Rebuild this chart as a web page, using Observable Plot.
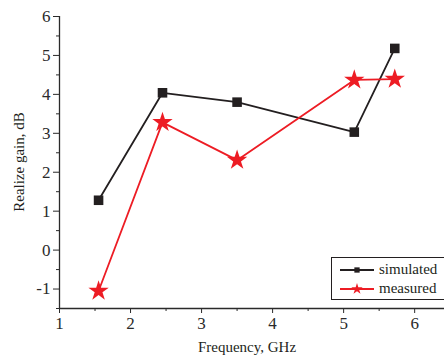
<!DOCTYPE html>
<html><head><meta charset="utf-8">
<script src="https://cdn.jsdelivr.net/npm/d3@7"></script>
<script src="https://cdn.jsdelivr.net/npm/@observablehq/plot@0.6"></script>
<style>
body{margin:0;background:#fff;}
#wrap{position:relative;width:444px;height:358px;overflow:hidden;}
#legend{position:absolute;left:331px;top:257px;width:130px;height:43px;border:1px solid #231f20;background:#fff;font-family:"Liberation Serif",serif;font-size:15px;color:#231f20;box-sizing:border-box;}
#legend .row{position:absolute;left:8px;display:flex;align-items:center;}
#legend svg{margin-right:5px;}
</style></head>
<body><div id="wrap"><div id="chart"></div><div id="legend"></div></div>
<script>
const freq = [1.55, 2.45, 3.5, 5.15, 5.72];
const simulated = [1.28, 4.04, 3.8, 3.03, 5.18];
const measured = [-1.05, 3.28, 2.31, 4.37, 4.39];
const xTicks = [1, 2, 3, 4, 5, 6];
const yTicks = [-1, 0, 1, 2, 3, 4, 5, 6];
const seriesNames = ["simulated", "measured"];
const seriesColors = ["#231f20", "#ed1c24"];

const sim = freq.map((f, i) => ({f, v: simulated[i]}));
const mea = freq.map((f, i) => ({f, v: measured[i]}));
const xMinor = d3.range(1.5, 6.5, 1);
const yMinor = d3.range(-1.5, 6, 1);

const chart = Plot.plot({
  width: 444, height: 358,
  marginLeft: 59, marginRight: 0, marginTop: 16, marginBottom: 50,
  style: {fontFamily: "Liberation Serif, serif", fontSize: "17px", color: "#2a2a2a", background: "#fff"},
  x: {domain: [1, 6.42]},
  y: {domain: [-1.5, 6]},
  marks: [
    Plot.axisX({ticks: xTicks, tickSize: 5, tickPadding: 3, tickFormat: d => d, label: null, fontSize: 17, fontFamily: "Liberation Serif"}),
    Plot.axisX({ticks: xMinor, tickSize: 3, tickFormat: () => "", label: null}),
    Plot.axisY({ticks: yTicks, tickSize: 6, tickPadding: 3, tickFormat: d => d, label: null, fontSize: 17, fontFamily: "Liberation Serif"}),
    Plot.axisY({ticks: yMinor, tickSize: 3, tickFormat: () => "", label: null}),
    Plot.ruleX([1], {stroke: "#2a2a2a", strokeWidth: 1.3}),
    Plot.ruleY([-1.5], {stroke: "#2a2a2a", strokeWidth: 1.3}),
    Plot.line(sim, {x: "f", y: "v", stroke: seriesColors[0], strokeWidth: 1.8}),
    Plot.line(mea, {x: "f", y: "v", stroke: seriesColors[1], strokeWidth: 1.8}),
    Plot.dot(sim, {x: "f", y: "v", symbol: "square", r: 5.4, fill: seriesColors[0], stroke: "none"}),
    Plot.dot(mea, {x: "f", y: "v", symbol: "star", r: 6.4, fill: seriesColors[1], stroke: "none"})
  ]
});
document.getElementById("chart").appendChild(chart);
const svg = d3.select(chart);
svg.append("text").attr("x", 247).attr("y", 352).attr("text-anchor", "middle")
  .attr("font-family", "Liberation Serif, serif").attr("font-size", 15).attr("fill", "#231f20")
  .text("Frequency, GHz");
svg.append("text").attr("transform", "translate(24,162) rotate(-90)").attr("text-anchor", "middle")
  .attr("font-family", "Liberation Serif, serif").attr("font-size", 15).attr("fill", "#231f20")
  .text("Realize gain, dB");

const lg = document.getElementById("legend");
const syms = [d3.symbolSquare, d3.symbolStar];
const sizes = [28, 40];
seriesNames.forEach((n, i) => {
  const row = document.createElement("div");
  row.className = "row";
  row.style.top = (i === 0 ? 3 : 22) + "px";
  const path = d3.symbol(syms[i], sizes[i])();
  row.innerHTML = `<svg width="34" height="16"><line x1="0" x2="34" y1="8" y2="8" stroke="${seriesColors[i]}" stroke-width="1.8"/><path d="${path}" transform="translate(17,8)" fill="${seriesColors[i]}"/></svg><span>${n}</span>`;
  lg.appendChild(row);
});
</script></body></html>
